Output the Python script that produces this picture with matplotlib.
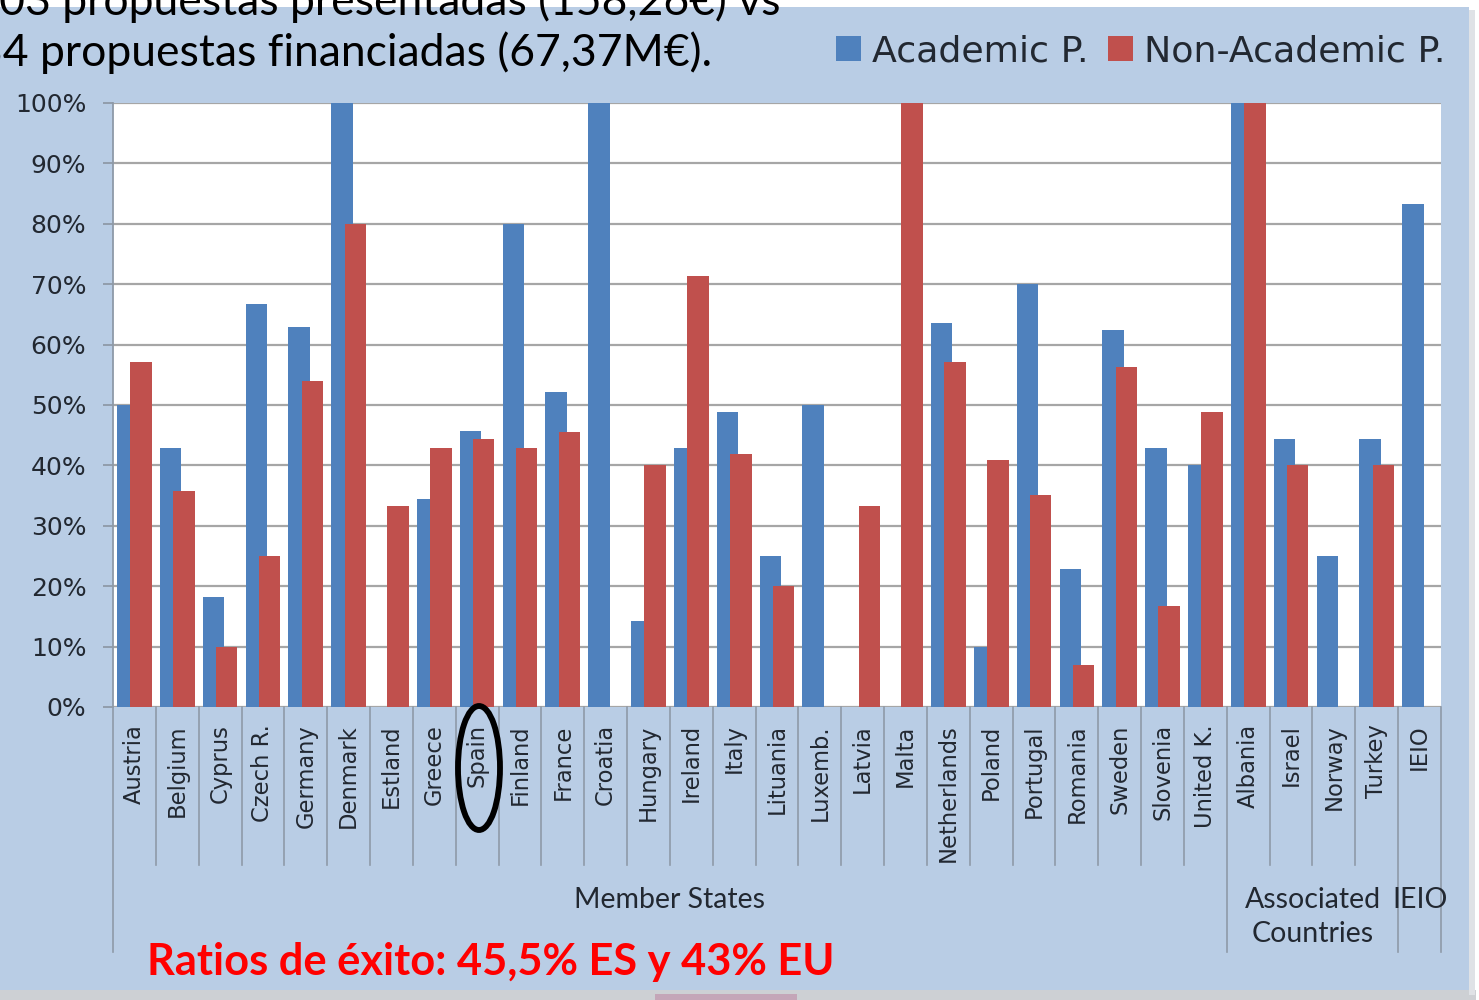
import numpy as np
import matplotlib
matplotlib.use("Agg")
import matplotlib.pyplot as plt
import matplotlib.transforms as mtransforms
from matplotlib.patches import Rectangle, Ellipse

# ---------------- data ----------------
countries = ["Austria", "Belgium", "Cyprus", "Czech R.", "Germany", "Denmark", "Estland",
             "Greece", "Spain", "Finland", "France", "Croatia", "Hungary", "Ireland",
             "Italy", "Lituania", "Luxemb.", "Latvia", "Malta", "Netherlands", "Poland",
             "Portugal", "Romania", "Sweden", "Slovenia", "United K.", "Albania", "Israel",
             "Norway", "Turkey", "IEIO"]
academic = [50.0, 42.9, 18.2, 66.7, 62.9, 100.0, 0.0, 34.5, 45.7, 80.0, 52.2, 100.0, 14.3,
            42.9, 48.8, 25.0, 50.0, 0.0, 0.0, 63.6, 10.0, 70.0, 22.9, 62.5, 42.9, 40.0,
            100.0, 44.4, 25.0, 44.4, 83.3]
non_academic = [57.1, 35.7, 10.0, 25.0, 54.0, 80.0, 33.3, 42.9, 44.4, 42.9, 45.5, 0.0, 40.0,
                71.4, 41.9, 20.0, 0.0, 33.3, 100.0, 57.1, 40.9, 35.1, 7.0, 56.3, 16.7, 48.8,
                100.0, 40.0, 0.0, 40.0, 0.0]
groups = [("Member States", 0, 26), ("Associated\nCountries", 26, 30), ("IEIO", 30, 31)]
y_ticks = [0, 10, 20, 30, 40, 50, 60, 70, 80, 90, 100]
series_names = ["Academic P.", "Non-Academic P."]
title_line1 = "1.803 propuestas presentadas (158,26€) vs"
title_line2 = "334 propuestas financiadas (67,37M€)."
footer = "Ratios de éxito: 45,5% ES y 43% EU"

# ---------------- style ----------------
plt.rcParams["font.family"] = ["DejaVu Sans"]
BLUE = "#4f81bd"
RED = "#c0504d"
PANEL = "#b9cde5"
GRID = "#a6a6a6"
TXT = "#222831"
SEP = "#8e9aa8"

W, H = 1479, 1000
fig = plt.figure(figsize=(W / 100, H / 100), dpi=100)
fig.patch.set_facecolor("white")


def fx(px):
    return px / W


def fy(py):
    return 1 - py / H


# slide panel + shadow (behind everything)
fig.patches.append(Rectangle((0, fy(1000)), fx(1476), fy(990) - fy(1000), transform=fig.transFigure,
                             facecolor="#cdd0d4", edgecolor="none", zorder=-10))
fig.patches.append(Rectangle((fx(1469), fy(995)), fx(6), fy(10) - fy(995), transform=fig.transFigure,
                             facecolor="#dfe2e6", edgecolor="none", zorder=-10))
fig.patches.append(Rectangle((0, fy(990)), fx(1469), fy(7) - fy(990), transform=fig.transFigure,
                             facecolor=PANEL, edgecolor="none", zorder=-9))
fig.patches.append(Rectangle((fx(655), fy(1000)), fx(142), fy(994) - fy(1000), transform=fig.transFigure,
                             facecolor="#c4a6b8", edgecolor="none", zorder=-8))

ax = fig.add_axes([fx(113), fy(707), fx(1441) - fx(113), fy(103) - fy(707)])
ax.set_zorder(1)
ax.set_facecolor("white")

x = np.arange(len(countries)) + 0.5
off = 0.155
bw = 0.5
b1 = ax.bar(x - off, academic, width=bw, color=BLUE, zorder=2, label=series_names[0])
b2 = ax.bar(x + off, non_academic, width=bw, color=RED, zorder=3, label=series_names[1])

ax.set_xlim(0, len(countries))
ax.set_ylim(0, 100)
ax.set_yticks(y_ticks)
ax.set_yticklabels([f"{v}%" for v in y_ticks])
ax.yaxis.grid(True, color=GRID, lw=1.6, zorder=1)
ax.set_axisbelow(True)
for s in ["top", "right", "bottom"]:
    ax.spines[s].set_visible(False)
ax.spines["left"].set_color(SEP)
ax.spines["left"].set_linewidth(1.3)
ax.tick_params(axis="y", length=7.2, width=1.3, color=SEP, labelsize=18, labelcolor=TXT, pad=12)
ax.set_xticks(x)
ax.set_xticklabels(countries, rotation=90, fontsize=16.3, color=TXT, va="top", ha="center")
ax.tick_params(axis="x", length=0, pad=12.5)

# category separators
trans = mtransforms.blended_transform_factory(ax.transData, ax.transAxes)
group_bounds = {g[1] for g in groups} | {g[2] for g in groups}
short_y = -(865 - 707) / 604
long_y = -(952 - 707) / 604
for b in range(len(countries) + 1):
    yb = long_y if b in group_bounds else short_y
    ax.plot([b, b], [0, yb], transform=trans, clip_on=False, color=SEP, lw=1.2, zorder=1)

renderer = fig.canvas.get_renderer()


def fit(t, target):
    w = t.get_window_extent(renderer).width
    t.set_fontsize(t.get_fontsize() * target / w)


# group labels
gy = -(887 - 707) / 604
gtexts = []
for name, a, b in groups:
    t = ax.text((a + b) / 2, gy, name, transform=trans, ha="center", va="top",
                fontsize=20, family=["Lato", "DejaVu Sans"], color=TXT, linespacing=1.4)
    gtexts.append(t)
fit(gtexts[0], 192)
for t in gtexts[1:]:
    t.set_fontsize(gtexts[0].get_fontsize())

# Spain highlight ellipse
fig.patches.append(Ellipse((fx(479), fy(768)), fx(42), 124 / H, transform=fig.transFigure,
                           facecolor="none", edgecolor="black", lw=4.2, zorder=5))

# legend
fig.legend(handles=[b1, b2], labels=series_names, loc="center left",
           bbox_to_anchor=(fx(836), fy(51)), ncol=2, frameon=False, fontsize=26.2,
           handlelength=0.68, handleheight=0.68, handletextpad=0.3, columnspacing=0.55,
           borderpad=0, borderaxespad=0, labelcolor=TXT)

# title (cut at the top / left like the slide)
probe = fig.text(0, 0, "propuestas financiadas (67,37M€).", fontsize=30,
                 family=["Lato", "DejaVu Sans"])
fit(probe, 672)
tsize = probe.get_fontsize()
probe.remove()
fig.text(fx(712), fy(66), title_line2, ha="right", va="baseline", fontsize=tsize,
         family=["Lato", "DejaVu Sans"], color="black")
fig.text(fx(780), fy(15), title_line1, ha="right", va="baseline", fontsize=tsize,
         family=["Lato", "DejaVu Sans"], color="black")

# footer
ft = fig.text(fx(147), fy(975), footer, ha="left", va="baseline", fontsize=30,
              family=["Lato", "DejaVu Sans"], weight="bold", color="#ff0000")
fit(ft, 686)

fig.savefig("out.png", dpi=100, facecolor=fig.get_facecolor())
